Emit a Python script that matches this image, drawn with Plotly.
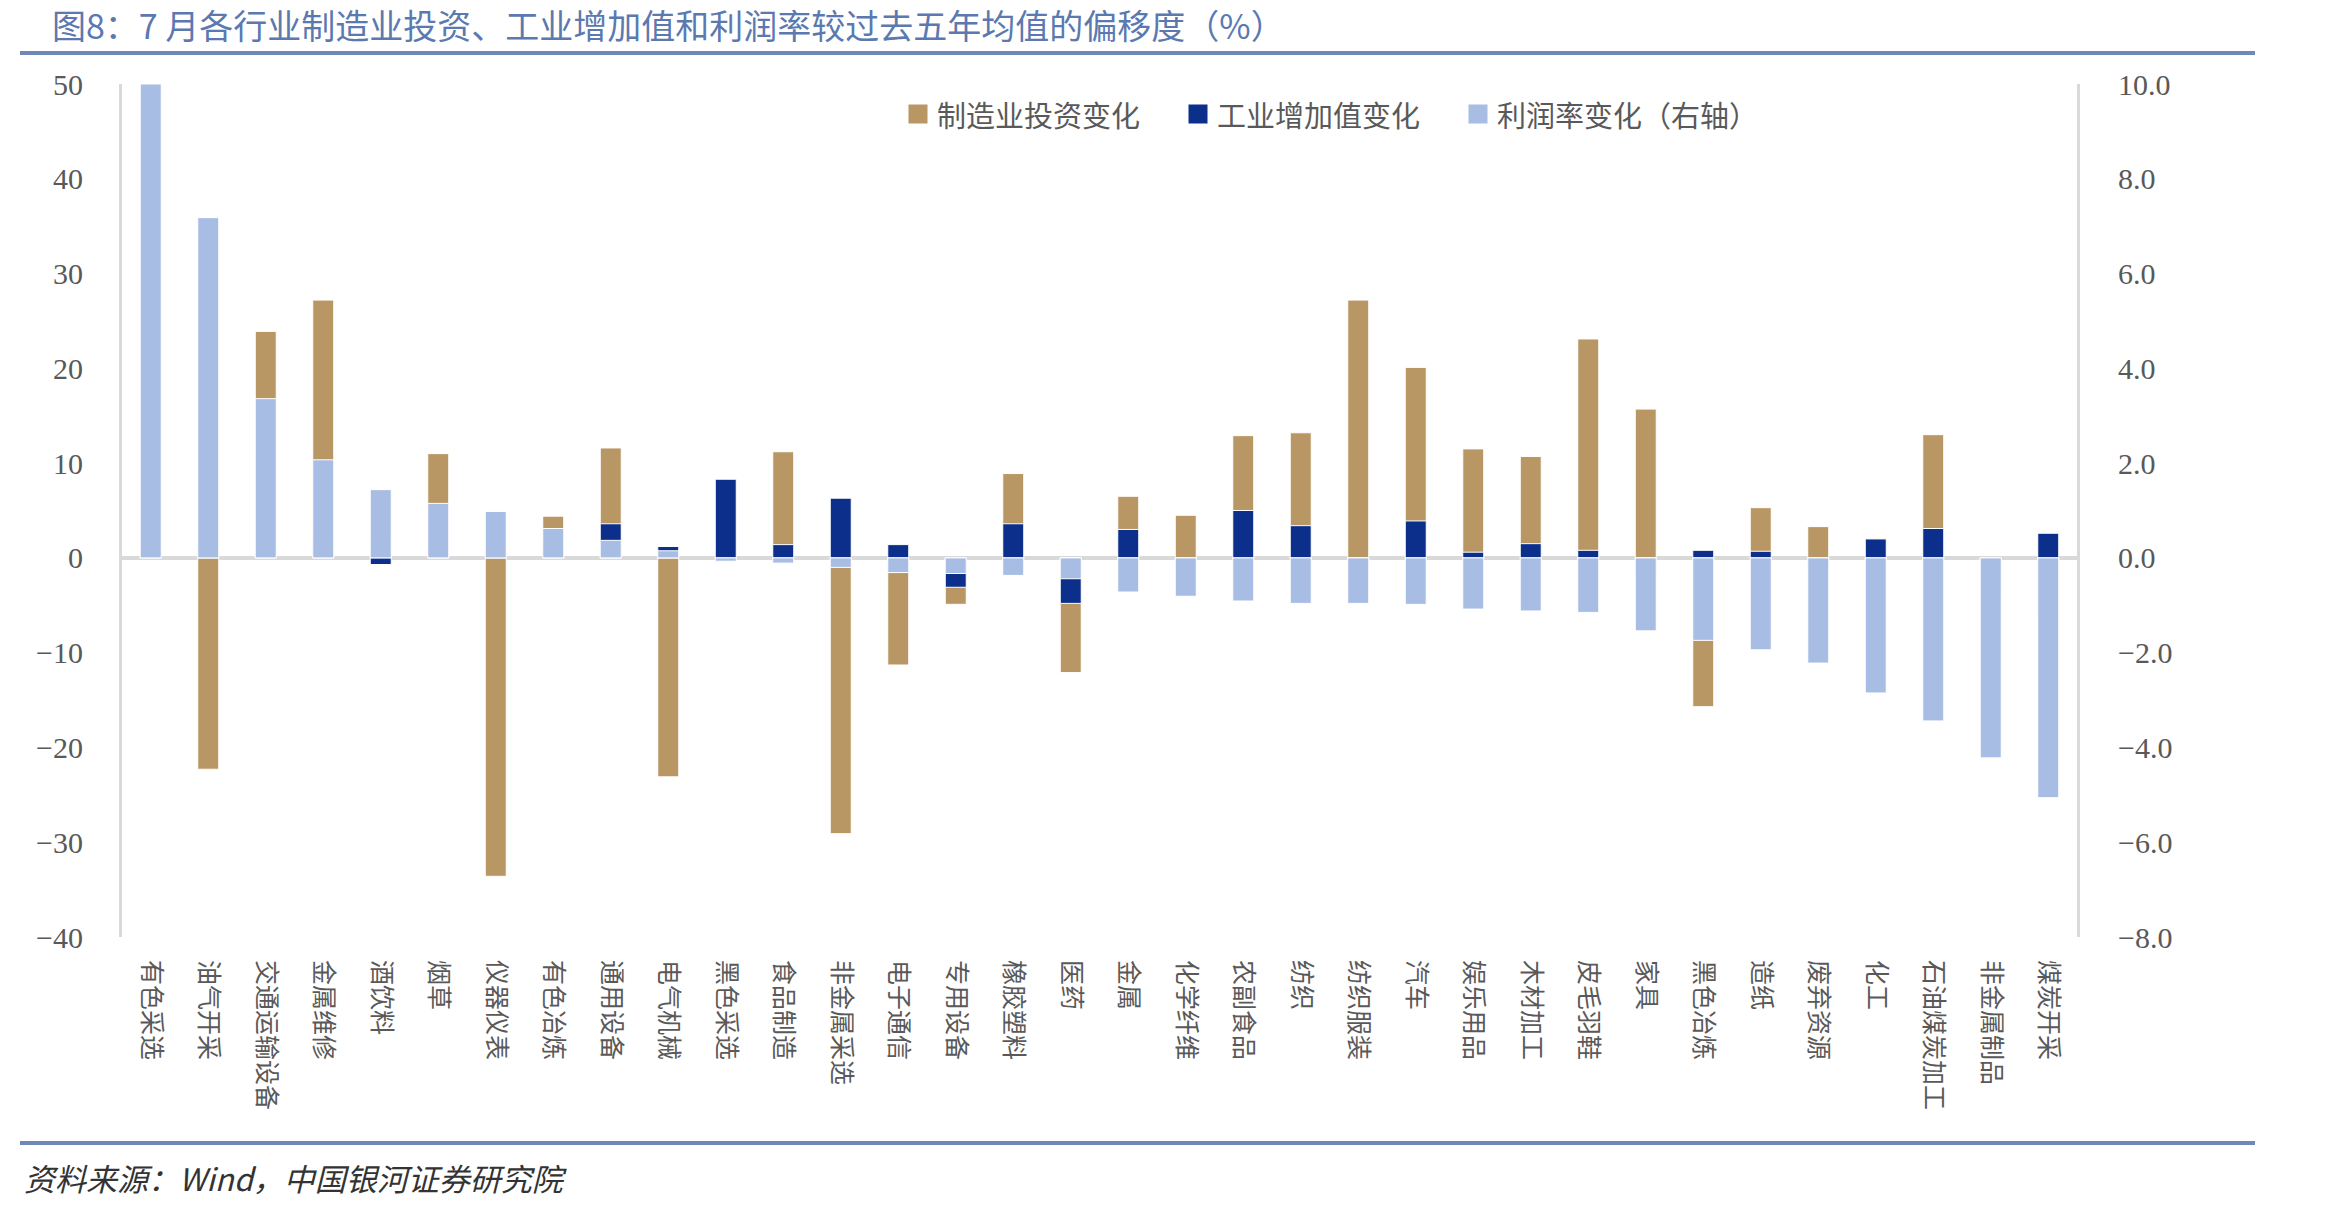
import plotly.graph_objects as go

categories = ["有色采选","油气开采","交通运输设备","金属维修","酒饮料","烟草","仪器仪表","有色冶炼","通用设备","电气机械",
              "黑色采选","食品制造","非金属采选","电子通信","专用设备","橡胶塑料","医药","金属","化学纤维","农副食品",
              "纺织","纺织服装","汽车","娱乐用品","木材加工","皮毛羽鞋","家具","黑色冶炼","造纸","废弃资源",
              "化工","石油煤炭加工","非金属制品","煤炭开采"]

# 制造业投资变化 (left axis)
invest = [7.5, -22.3, 23.9, 27.2, 2.0, 11.0, -33.6, 4.4, 11.6, -23.1,
          0.5, 11.2, -29.1, -11.3, -4.9, 8.9, -12.1, 6.5, 4.5, 12.9,
          13.2, 27.2, 20.1, 11.5, 10.7, 23.1, 15.7, -15.7, 5.3, 3.3,
          -10.8, 13.0, -12.0, -6.0]

# 工业增加值变化 (left axis)
value_added = [0.5, 1.0, 11.2, 2.0, -0.7, 0.3, 0.5, 1.4, 3.6, 1.2,
               8.3, 1.4, 6.3, 1.4, -3.1, 3.6, -4.8, 3.0, -0.5, 5.0,
               3.4, -0.5, 3.9, 0.6, 1.5, 0.8, -2.0, 0.8, 0.7, -1.0,
               2.0, 3.1, -3.9, 2.6]

# 利润率变化 (right axis)
profit = [10.0, 7.18, 3.36, 2.07, 1.44, 1.15, 0.98, 0.62, 0.37, 0.15,
          -0.07, -0.11, -0.20, -0.31, -0.33, -0.37, -0.44, -0.72, -0.81, -0.91,
          -0.96, -0.96, -0.98, -1.08, -1.12, -1.15, -1.54, -1.74, -1.94, -2.22,
          -2.85, -3.44, -4.22, -5.06]

series_names = ["制造业投资变化", "工业增加值变化", "利润率变化（右轴）"]

left_ticks = [-40, -30, -20, -10, 0, 10, 20, 30, 40, 50]
right_ticks = [-8, -6, -4, -2, 0, 2, 4, 6, 8, 10]

C_TAN = "#b99764"
C_DARK = "#0b2f8a"
C_LIGHT = "#a8bde3"
colors = [C_TAN, C_DARK, C_LIGHT]
GRAY = "#595959"
AX = "#d9d9d9"
LINE = "#6f88b8"

W, H = 2325, 1208
L, R, T, B = 122, 248, 84, 271
pw, ph = W - L - R, H - T - B

def px(x):
    return (x - L) / pw

def py(y):
    return (H - B - y) / ph

CJK = "Noto Sans CJK SC"
NUM = "Liberation Serif, Noto Sans CJK SC"

fig = go.Figure()
bw = 0.365
for vals, name, col, ax in [(invest, series_names[0], C_TAN, "y"),
                            (value_added, series_names[1], C_DARK, "y"),
                            (profit, series_names[2], C_LIGHT, "y2")]:
    fig.add_trace(go.Bar(x=categories, y=vals, name=name, width=bw, yaxis=ax, showlegend=False,
                         marker=dict(color=col, line=dict(color="white", width=1))))

# manual legend (larger square symbols as in the reference)
shapes = []
annotations = []
leg_sym_x = [908, 1188, 1468]
leg_y = 114
for sx, name, col in zip(leg_sym_x, series_names, colors):
    shapes.append(dict(type="rect", xref="paper", yref="paper",
                       x0=px(sx), x1=px(sx + 20), y0=py(leg_y - 10), y1=py(leg_y + 10),
                       fillcolor=col, line=dict(color="white", width=1)))
    annotations.append(dict(text=name, xref="paper", yref="paper", x=px(sx + 27), y=py(leg_y),
                            xanchor="left", yanchor="middle", showarrow=False,
                            font=dict(family=CJK, size=29, color=GRAY)))

shapes += [
    dict(type="line", xref="paper", yref="paper", x0=px(20), x1=px(2255), y0=py(53), y1=py(53),
         line=dict(color=LINE, width=4)),
    dict(type="line", xref="paper", yref="paper", x0=px(20), x1=px(2255), y0=py(1143), y1=py(1143),
         line=dict(color=LINE, width=4)),
]
annotations.append(dict(text="<i>资料来源：Wind，中国银河证券研究院</i>", xref="paper", yref="paper",
                        x=px(22), y=py(1177), xanchor="left", yanchor="middle", showarrow=False,
                        font=dict(family=CJK, size=31, color="#333333")))
annotations.append(dict(text="图8：7 月各行业制造业投资、工业增加值和利润率较过去五年均值的偏移度（%）",
                        xref="paper", yref="paper", x=px(50), y=py(25), xanchor="left", yanchor="middle",
                        showarrow=False, font=dict(family=CJK, size=34, color="#5b79b0")))

fig.update_layout(
    width=W, height=H,
    margin=dict(l=L, r=R, t=T, b=B, autoexpand=False),
    paper_bgcolor="white", plot_bgcolor="white",
    barmode="overlay",
    showlegend=False,
    xaxis=dict(type="category", showgrid=False, showline=False, zeroline=False, tickangle=90,
               ticks="", ticklabelstandoff=22,
               tickfont=dict(family=CJK, size=25, color=GRAY), range=[-0.5, len(categories) - 0.5]),
    yaxis=dict(range=[-40, 50], tickvals=left_ticks, showgrid=False, showline=True, linecolor=AX, linewidth=3,
               zeroline=True, zerolinecolor=AX, zerolinewidth=4, ticks="", ticklabelstandoff=30,
               tickfont=dict(family=NUM, size=30, color=GRAY)),
    yaxis2=dict(range=[-8, 10], tickvals=right_ticks, tickformat=".1f", overlaying="y", side="right",
                showgrid=False, showline=True, linecolor=AX, linewidth=3, zeroline=False, ticks="",
                ticklabelstandoff=32, tickfont=dict(family=NUM, size=30, color=GRAY)),
    shapes=shapes,
    annotations=annotations,
)

fig.write_html("out.html")
